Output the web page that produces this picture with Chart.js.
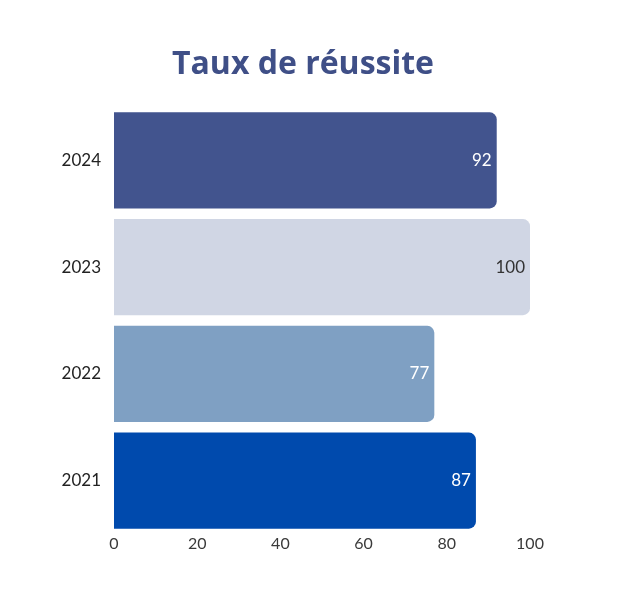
<!DOCTYPE html>
<html>
<head>
<meta charset="utf-8">
<script src="https://cdn.jsdelivr.net/npm/chart.js@4"></script>
<style>
  html, body { margin: 0; padding: 0; background: #fff; }
  canvas { display: block; }
</style>
</head>
<body>
<canvas id="chart" width="634" height="591"></canvas>
<script>
// data
const years = ['2024', '2023', '2022', '2021'];
const rates = [92, 100, 77, 87];
const barColors = ['#42548e', '#d0d6e4', '#7fa0c3', '#004aad'];
const labelColors = ['#ffffff', '#333333', '#ffffff', '#ffffff'];
const xTicks = [0, 20, 40, 60, 80, 100];
const titleText = 'Taux de réussite';

// title centred on the whole canvas, not on the plot box
const pageTitle = {
  id: 'pageTitle',
  afterDraw(chart) {
    const ctx = chart.ctx;
    ctx.save();
    ctx.font = 'bold 32px "Open Sans"';
    ctx.fillStyle = '#3f4f87';
    ctx.textAlign = 'center';
    ctx.textBaseline = 'alphabetic';
    ctx.fillText(titleText, chart.width / 2 - 14, 74);
    ctx.restore();
  }
};

// prints the value just inside the end of each bar
const valueLabels = {
  id: 'valueLabels',
  afterDatasetsDraw(chart) {
    const ctx = chart.ctx;
    const meta = chart.getDatasetMeta(0);
    ctx.save();
    ctx.font = '17px Lato';
    ctx.textAlign = 'right';
    ctx.textBaseline = 'middle';
    meta.data.forEach((bar, i) => {
      ctx.fillStyle = labelColors[i];
      ctx.fillText(rates[i], bar.x - 5, bar.y);
    });
    ctx.restore();
  }
};

new Chart(document.getElementById('chart'), {
  type: 'bar',
  data: {
    labels: years,
    datasets: [{
      data: rates,
      backgroundColor: barColors,
      borderRadius: 7,
      barPercentage: 0.9,
      categoryPercentage: 1
    }]
  },
  options: {
    indexAxis: 'y',
    responsive: false,
    animation: false,
    devicePixelRatio: 1,
    layout: { padding: { top: 107, right: 104, bottom: 37, left: 0 } },
    plugins: {
      legend: { display: false },
      tooltip: { enabled: false },
      title: { display: false }
    },
    scales: {
      x: {
        min: 0,
        max: 100,
        afterBuildTicks(axis) { axis.ticks = xTicks.map(v => ({ value: v })); },
        afterFit(axis) { axis.height = 20; },
        grid: { display: false, drawTicks: false },
        border: { display: false },
        ticks: { color: '#3a3a3a', padding: 0, maxRotation: 0, font: { family: 'Lato', size: 16 } }
      },
      y: {
        afterFit(axis) { axis.width = 114; },
        grid: { display: false, drawTicks: false },
        border: { display: false },
        ticks: { color: '#222', padding: 13, font: { family: 'Lato', size: 17 } }
      }
    }
  },
  plugins: [valueLabels, pageTitle]
});
</script>
</body>
</html>
